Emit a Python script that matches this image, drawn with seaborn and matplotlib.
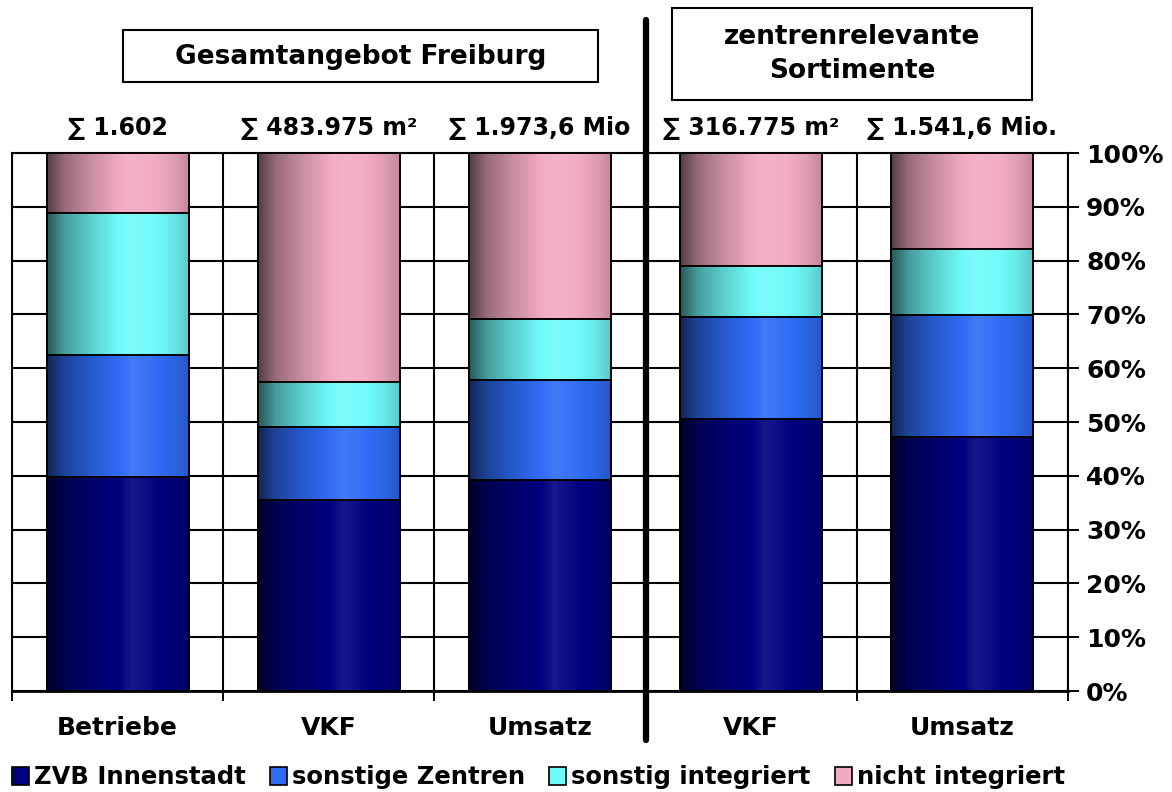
import numpy as np
import pandas as pd
import seaborn as sns
import matplotlib.pyplot as plt
from matplotlib.colors import to_rgb
from matplotlib.patches import Patch, Rectangle

sns.set_style('white')
plt.rcParams['font.family'] = ['DejaVu Sans']
plt.rcParams['font.weight'] = 'bold'
plt.rcParams['text.color'] = 'black'
plt.rcParams['xtick.color'] = 'black'
plt.rcParams['ytick.color'] = 'black'

# data (shares in %)
keys = ['Betriebe', 'VKF_ges', 'Umsatz_ges', 'VKF_zr', 'Umsatz_zr']
tick_labels = ['Betriebe', 'VKF', 'Umsatz', 'VKF', 'Umsatz']
series = ['ZVB Innenstadt', 'sonstige Zentren', 'sonstig integriert', 'nicht integriert']
zvb = [39.8, 35.5, 39.2, 50.5, 47.2]
sonst_zentren = [22.7, 13.5, 18.7, 19.0, 22.7]
sonst_integriert = [26.3, 8.4, 11.2, 9.5, 12.2]
nicht_integriert = [11.2, 42.6, 30.9, 21.0, 17.9]
sum_labels = ['∑ 1.602', '∑ 483.975 m²', '∑ 1.973,6 Mio', '∑ 316.775 m²', '∑ 1.541,6 Mio.']
colors = ['#000080', '#2f6cf6', '#70fafa', '#f2aac4']

df = pd.DataFrame({'key': keys, 'ZVB Innenstadt': zvb, 'sonstige Zentren': sonst_zentren,
                   'sonstig integriert': sonst_integriert, 'nicht integriert': nicht_integriert})
cum = df[series].cumsum(axis=1) / 100.0


def gradient(base):
    # horizontal shading to mimic the cylinder look
    pos = [0.0, 0.12, 0.3, 0.45, 0.6, 0.75, 0.9, 1.0]
    fac = [0.35, 0.62, 0.82, 0.95, 1.08, 1.02, 0.92, 0.8]
    b = np.array(to_rgb(base))
    xs = np.linspace(0, 1, 200)
    f = np.interp(xs, pos, fac)
    out = []
    for v in f:
        if v <= 1:
            c = b * v
        else:
            c = b + (1 - b) * (v - 1) * 1.2
        out.append(np.clip(c, 0, 1))
    return np.array(out)[None, :, :]


fig, ax = plt.subplots(figsize=(11.72, 7.92), dpi=100)
fig.subplots_adjust(left=0.0102, right=0.9113, bottom=0.1275, top=0.8068)

# draw cumulative bars from top layer down
layer_patches = []
for i in range(len(series) - 1, -1, -1):
    n_before = len(ax.patches)
    sns.barplot(x=df['key'], y=cum[series[i]], order=keys, color=colors[i], saturation=1,
                width=0.672, edgecolor='black', linewidth=1.4, ax=ax, zorder=3 + (3 - i))
    layer_patches.append((i, ax.patches[n_before:]))

for i, patches in layer_patches:
    img = gradient(colors[i])
    for p in patches:
        x0, y0 = p.get_x(), p.get_y()
        w, h = p.get_width(), p.get_height()
        im = ax.imshow(img, extent=(x0, x0 + w, y0, y0 + h), aspect='auto',
                       zorder=p.get_zorder() - 0.01, interpolation='bilinear')
        im.set_clip_path(p)
        p.set_facecolor('none')
        p.set_zorder(p.get_zorder() + 0.005)

ax.set_xlim(-0.5, len(keys) - 0.5)
ax.set_ylim(0, 1)
ax.set_xlabel('')
ax.set_ylabel('')

ax.set_xticks(range(len(keys)))
ax.set_xticklabels(tick_labels, fontsize=18, fontweight='bold')
ax.set_xticks(np.arange(-0.5, len(keys), 1.0), minor=True)
ax.tick_params(axis='x', which='major', length=0, pad=18)
ax.tick_params(axis='x', which='minor', length=7, width=1.4, direction='out', color='black', bottom=True)

ax.yaxis.tick_right()
ax.set_yticks(np.arange(0, 1.01, 0.1))
ax.set_yticklabels([f'{int(round(v * 100))}%' for v in np.arange(0, 1.01, 0.1)],
                   fontsize=18, fontweight='bold')
ax.tick_params(axis='y', which='major', length=8, width=1.4, direction='out', color='black',
               right=True, left=False, pad=5)

ax.grid(axis='y', which='major', color='black', linewidth=1.5)
ax.grid(axis='x', which='minor', color='black', linewidth=1.5)
ax.grid(axis='x', which='major', visible=False)
ax.set_axisbelow(True)
for side in ['left', 'right', 'top', 'bottom']:
    ax.spines[side].set_visible(True)
    ax.spines[side].set_color('black')
    ax.spines[side].set_linewidth(1.5)
ax.spines['bottom'].set_linewidth(2)

# thick divider between the two groups
ax.axvline(2.5, ymin=-0.091, ymax=1.247, color='black', linewidth=4.5, clip_on=False, zorder=10)

# sum labels above bars
for i, lab in enumerate(sum_labels):
    ax.text(i, 1.046, lab, ha='center', va='center', fontsize=17, fontweight='bold', clip_on=False)

# group title boxes
W, H = 1172, 792
fig.add_artist(Rectangle((123 / W, 1 - 82 / H), 475 / W, 52 / H, transform=fig.transFigure,
                         facecolor='white', edgecolor='black', linewidth=1.5))
fig.text(360.5 / W, 1 - 57 / H, 'Gesamtangebot Freiburg', ha='center', va='center',
         fontsize=19, fontweight='bold')
fig.add_artist(Rectangle((672 / W, 1 - 100 / H), 360 / W, 92 / H, transform=fig.transFigure,
                         facecolor='white', edgecolor='black', linewidth=1.5))
fig.text(852 / W, 1 - 54 / H, 'zentrenrelevante\nSortimente', ha='center', va='center',
         fontsize=19, fontweight='bold', linespacing=1.35)

handles = [Patch(facecolor=c, edgecolor='black', linewidth=1.2) for c in colors]
fig.legend(handles, series, loc='lower left', bbox_to_anchor=(0.0, -0.012), ncol=4, frameon=False,
           prop={'size': 17.5, 'weight': 'bold'}, handlelength=0.7, handleheight=0.8,
           handletextpad=0.2, columnspacing=1.0, borderaxespad=0.1)

fig.savefig('out.png', dpi=100)
